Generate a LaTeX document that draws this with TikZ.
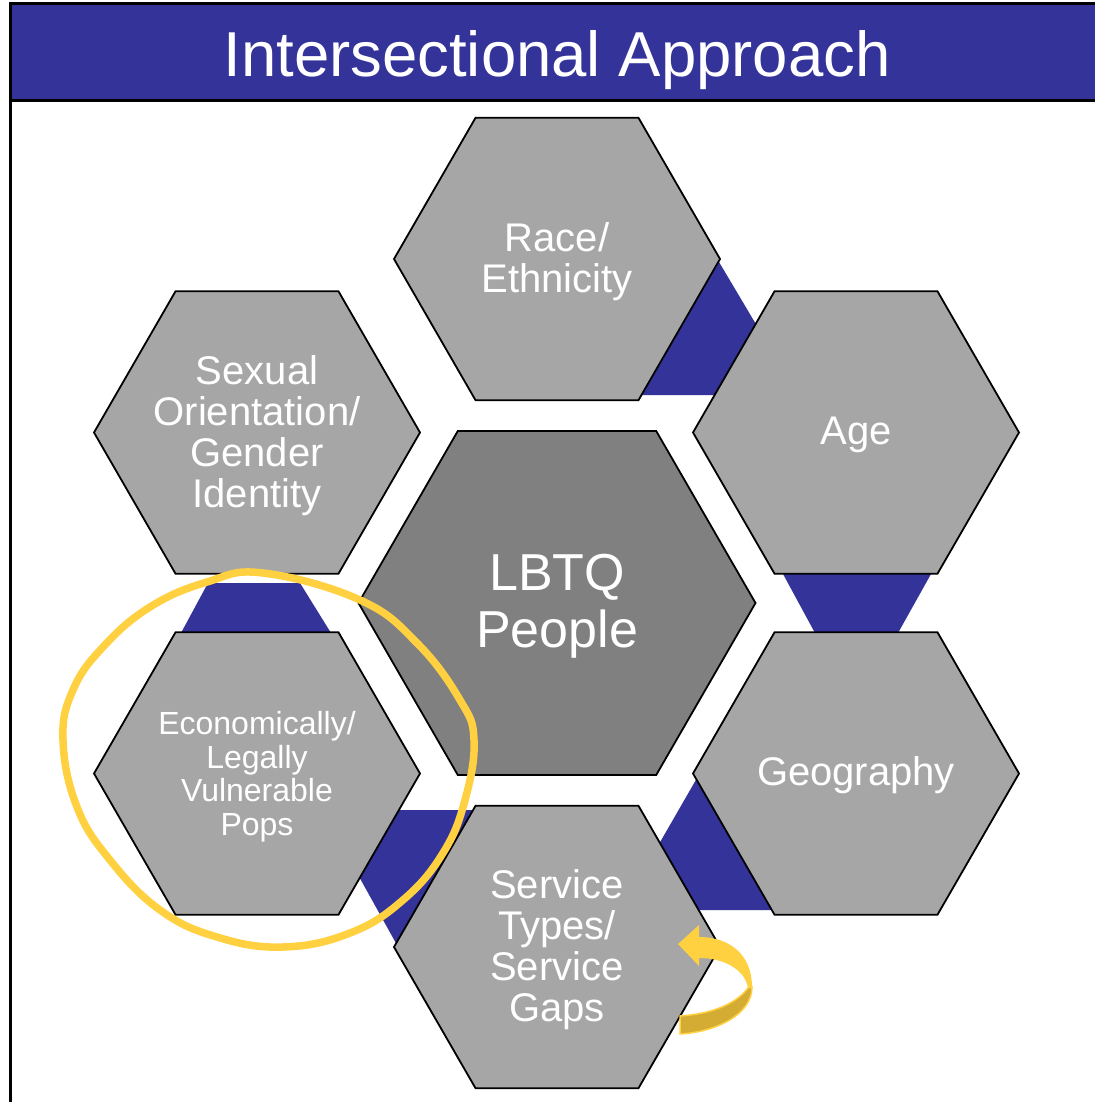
\documentclass[tikz,border=0pt]{standalone}
\usepackage{fontspec}
\setmainfont{Liberation Sans}
\usetikzlibrary{shapes.geometric}
\definecolor{titleblue}{RGB}{51,51,153}
\definecolor{hexgray}{RGB}{166,166,166}
\definecolor{centergray}{RGB}{128,128,128}
\definecolor{hiyellow}{RGB}{255,208,64}
\definecolor{darkgold}{RGB}{212,172,52}
\begin{document}
\begin{tikzpicture}[x=1pt,y=-1pt,
  hexbox/.style={regular polygon, regular polygon sides=6, minimum size=326pt,
    inner sep=0pt, outer sep=0pt, draw=black, line width=1.8pt, fill=hexgray},
  centerhex/.style={hexbox, minimum size=397pt, fill=centergray},
  hextext/.style={text=white, align=center, inner sep=0pt, font=\fontsize{40}{41}\selectfont},
  bigtext/.style={hextext, font=\fontsize{52}{57}\selectfont},
  smalltext/.style={hextext, font=\fontsize{32}{33.5}\selectfont},
  link/.style={fill=titleblue},
  marker/.style={draw=hiyellow, line width=7.5pt}]
\useasboundingbox (0,0) rectangle (1094,1102);
\fill[white] (0,0) rectangle (1094,1102);
% title bar
\path[draw=black, line width=3pt, fill=titleblue] (10,4) rectangle (1104,101);
\node[text=white, font=\fontsize{63.5}{70}\selectfont, anchor=base, inner sep=0pt] (title) at (557,77) {Intersectional Approach};
\draw[line width=3pt] (10,101) -- (10,1110);
% blue links (behind hexagons)
\fill[link] (719,262) -- (798,395) -- (642,395) -- cycle;
\fill[link] (208,583) -- (300,583) -- (331,633) -- (181,633) -- cycle;
\fill[link] (783,574) -- (931,574) -- (898,633) -- (815,633) -- cycle;
\fill[link] (697,778) -- (775,910) -- (621,910) -- cycle;
\fill[link] (322,810) -- (478,810) -- (397,945) -- cycle;
% hexagons
\node[centerhex] (lbtq) at (557,603) {};
\node[hexbox] (race) at (557,259) {};
\node[hexbox] (sexual) at (257,432.5) {};
\node[hexbox] (age) at (856,432.5) {};
\node[hexbox] (econ) at (257,773.5) {};
\node[hexbox] (geo) at (856,773.5) {};
\node[hexbox] (service) at (557,947) {};
% texts
\node[bigtext] (lbtqtext) at ([yshift=-3pt]lbtq.center) {LBTQ\\People};
\node[hextext] (racetext) at ([yshift=-3pt]race.center) {Race/\\Ethnicity};
\node[hextext] (sexualtext) at ([yshift=-3pt]sexual.center) {Sexual\\Orientation/\\Gender\\Identity};
\node[hextext] (agetext) at ([yshift=-2pt]age.center) {Age};
\node[smalltext] (econtext) at ([yshift=-3pt]econ.center) {Economically/\\Legally\\Vulnerable\\Pops};
\node[hextext] (geotext) at ([yshift=-2pt]geo.center) {Geography};
\node[hextext] (servicetext) at ([yshift=-3pt]service.center) {Service\\Types/\\Service\\Gaps};
% yellow hand-drawn ellipse
\draw[marker] plot[smooth cycle, tension=0.7] coordinates {
  (263,573) (360,600) (417,643) (460,700) (474,740) (465,800) (443,853)
  (403,900) (350,933) (283,947) (217,937) (160,910) (110,860) (77,807)
  (63,740) (73,690) (103,647) (150,607) (207,582)};
% curved arrow
\fill[darkgold, draw=hiyellow, line width=1.5pt]
  (748,988) .. controls (735,1005) and (710,1014) .. (680,1016) -- (680,1034)
  .. controls (715,1032) and (752,1015) .. (752,987) -- cycle;
\fill[hiyellow]
  (678,944) -- (699,925) -- (699,937) .. controls (730,937) and (752,955) .. (752,987)
  -- (748,988) .. controls (745,970) and (725,958) .. (699,958) -- (699,966) -- cycle;
\end{tikzpicture}
\end{document}
